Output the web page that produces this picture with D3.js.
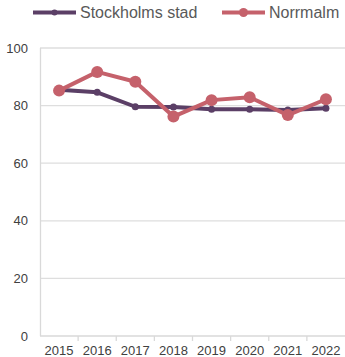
<!DOCTYPE html>
<html>
<head>
<meta charset="utf-8">
<script src="https://cdn.jsdelivr.net/npm/d3@7"></script>
<style>
  html, body { margin: 0; padding: 0; background: #fff; }
  svg { display: block; font-family: "Liberation Sans", Arial, sans-serif; }
</style>
</head>
<body>
<svg id="chart" width="345" height="357"></svg>
<script>
// Years on the x axis
const years = ["2015", "2016", "2017", "2018", "2019", "2020", "2021", "2022"];
// Series values (percent)
const stockholmValues = [85.5, 84.6, 79.6, 79.5, 78.7, 78.7, 78.5, 79.1];
const norrmalmValues = [85.2, 91.7, 88.3, 76.2, 81.9, 82.9, 76.7, 82.2];
// Y tick values
const yTicks = [0, 20, 40, 60, 80, 100];

const series = [
  { name: "Stockholms stad", values: stockholmValues, color: "#5b3f66", r: 3.5, legendR: 3 },
  { name: "Norrmalm", values: norrmalmValues, color: "#c5616b", r: 6, legendR: 4.5 }
];

const svg = d3.select("#chart");
const margin = { left: 40, right: 0, top: 48, bottom: 21 };
const W = 345, H = 357;

const x = d3.scaleBand().domain(years).range([margin.left, W - margin.right]);
const y = d3.scaleLinear().domain([0, 100]).range([H - margin.bottom, margin.top]);

// Horizontal gridlines
svg.append("g").selectAll("line").data(yTicks.filter(d => d > 0)).join("line")
  .attr("x1", margin.left).attr("x2", W)
  .attr("y1", d => y(d)).attr("y2", d => y(d))
  .attr("stroke", "#dedede").attr("stroke-width", 1.3);

// Y axis labels
svg.append("g").selectAll("text").data(yTicks).join("text")
  .attr("x", 28).attr("y", d => y(d)).attr("dy", "0.35em")
  .attr("text-anchor", "end").attr("font-size", 13).attr("fill", "#404040")
  .text(d => d);

// Y axis line
svg.append("line")
  .attr("x1", margin.left + 0.5).attr("x2", margin.left + 0.5)
  .attr("y1", y(100)).attr("y2", y(0))
  .attr("stroke", "#d9d9d9").attr("stroke-width", 1.3);

// X axis with tick marks between categories
const xAxis = svg.append("g").attr("transform", `translate(0,${y(0)})`);
xAxis.append("line").attr("x1", margin.left).attr("x2", W)
  .attr("stroke", "#d9d9d9").attr("stroke-width", 1.3);
xAxis.selectAll(".tk").data(years.slice(1)).join("line")
  .attr("x1", d => x(d)).attr("x2", d => x(d))
  .attr("y1", 0).attr("y2", 5)
  .attr("stroke", "#d9d9d9").attr("stroke-width", 1.3);
xAxis.selectAll("text").data(years).join("text")
  .attr("x", d => x(d) + x.bandwidth() / 2).attr("y", 19)
  .attr("text-anchor", "middle").attr("font-size", 13).attr("fill", "#404040")
  .text(d => d);

// Lines and markers
const line = d3.line()
  .x((d, i) => x(years[i]) + x.bandwidth() / 2)
  .y(d => y(d));

series.forEach(s => {
  const g = svg.append("g");
  g.append("path").datum(s.values)
    .attr("d", line).attr("fill", "none")
    .attr("stroke", s.color).attr("stroke-width", 4)
    .attr("stroke-linejoin", "round");
  g.selectAll("circle").data(s.values).join("circle")
    .attr("cx", (d, i) => x(years[i]) + x.bandwidth() / 2)
    .attr("cy", d => y(d)).attr("r", s.r)
    .attr("fill", s.color);
});

// Legend
const legendItems = [
  { s: series[0], x0: 33, x1: 76 },
  { s: series[1], x0: 222, x1: 265 }
];
legendItems.forEach(it => {
  const g = svg.append("g");
  g.append("line").attr("x1", it.x0).attr("x2", it.x1)
    .attr("y1", 12.5).attr("y2", 12.5)
    .attr("stroke", it.s.color).attr("stroke-width", 4);
  g.append("circle").attr("cx", (it.x0 + it.x1) / 2).attr("cy", 12.5)
    .attr("r", it.s.legendR).attr("fill", it.s.color);
  g.append("text").attr("x", it.x1 + 4).attr("y", 12.5).attr("dy", "0.36em")
    .attr("font-size", 16).attr("fill", "#595959")
    .text(it.s.name);
});
</script>
</body>
</html>
